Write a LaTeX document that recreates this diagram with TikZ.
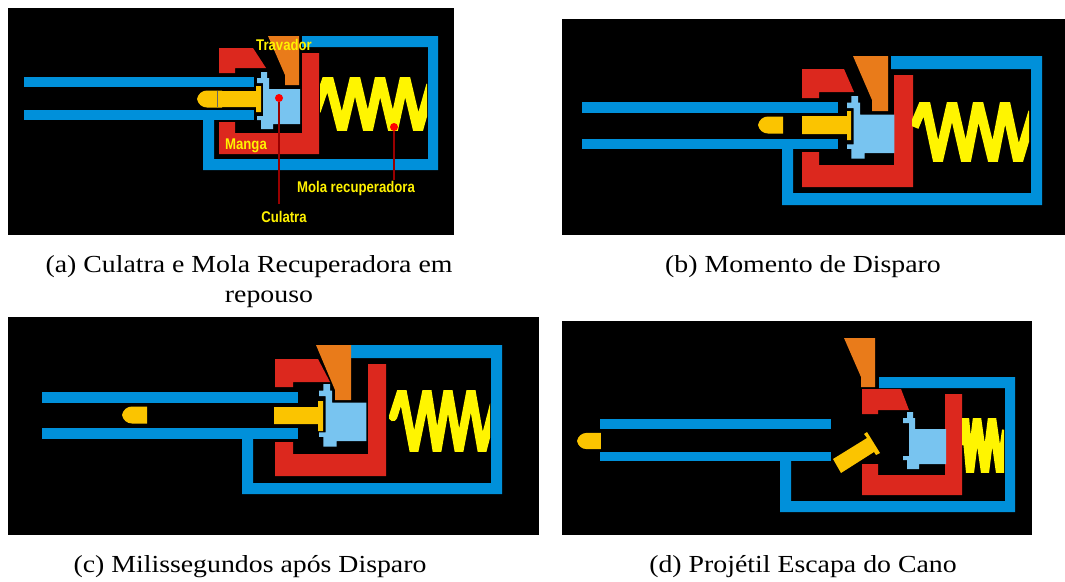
\documentclass[tikz,border=0pt]{standalone}
\usepackage{fontspec}
\setmainfont{Liberation Serif}
\newfontfamily\rotulofont[FakeStretch=0.85]{Liberation Sans}
\newfontfamily\legendafont[FakeStretch=1.135]{Liberation Serif}
\definecolor{azulcano}{HTML}{0090DA}
\definecolor{vermelho}{HTML}{DC281E}
\definecolor{laranja}{HTML}{E97B1A}
\definecolor{azulclaro}{HTML}{78C4F0}
\definecolor{ouro}{HTML}{FBC400}
\definecolor{amarelo}{HTML}{FFF500}
\tikzstyle{fundo}=[fill=black]
\tikzstyle{cano}=[fill=azulcano]
\tikzstyle{manga}=[fill=vermelho]
\tikzstyle{trava}=[fill=laranja]
\tikzstyle{culatrafill}=[fill=azulclaro]
\tikzstyle{cartucho}=[fill=ouro]
\tikzstyle{mola}=[draw=amarelo,line width=9.5pt,line join=miter,miter limit=20]
\tikzstyle{rotulo}=[text=yellow,inner sep=0pt,font=\rotulofont\bfseries\fontsize{15.5}{17}\selectfont]
\tikzstyle{ponto}=[circle,fill=red,inner sep=0pt,minimum size=8pt]
\tikzstyle{fio}=[draw=red!60!black,line width=1.5pt]
\tikzstyle{legenda}=[inner sep=0pt,font=\legendafont\fontsize{24.5}{28}\selectfont]
\tikzset{
culatra/.pic={
\fill[culatrafill] (4,0)--(10,0)--(10,6)--(12,6)--(12,17)--(43,17)--(43,52)--(16,52)--(16,57)--(4,57)--(4,48)--(0,48)--(0,44)--(6,44)--(6,11)--(0,11)--(0,6)--(4,6)--cycle;
},
ogiva/.pic={
\fill[cartucho] (0,0) .. controls (1,-5) and (5,-8.5) .. (10,-8.5) -- (25,-8.5) -- (25,8.5) -- (10,8.5) .. controls (5,8.5) and (1,5) .. (0,0) -- cycle;
}}
\begin{document}
\begin{tikzpicture}[x=1pt,y=-1pt]
\useasboundingbox (0,0) rectangle (1065,581);
\fill[fundo] (8,8) rectangle (454,235);
\fill[fundo] (562,19) rectangle (1065,235);
\fill[fundo] (8,317) rectangle (539,535);
\fill[fundo] (562,321) rectangle (1032,535);

%repouso
\fill[cano] (302,36)--(438,36)--(438,170)--(203,170)--(203,120)--(214,120)--(214,159)--(428,159)--(428,47)--(302,47)--cycle;
\fill[cano] (24,77) rectangle (254,87);
\fill[cano] (24,110) rectangle (254,120);
\fill[manga] (219,48)--(253,48)--(266,68)--(235,68)--(235,73)--(219,73)--cycle;
\fill[manga] (219,122)--(235,122)--(235,133)--(302,133)--(302,53)--(319,53)--(319,154)--(219,154)--cycle;
\fill[trava] (268,36)--(299,36)--(299,85)--(285,85)--(285,75)--cycle;
\pic at (257,72) {culatra};
\pic at (197,99) {ogiva};
\fill[cartucho] (217,91)--(256,91)--(256,86)--(261,86)--(261,112)--(256,112)--(256,107)--(217,107)--cycle;
\draw[black!60,line width=0.5pt] (217,91)--(217,107);
\begin{scope}
\clip (320,77) rectangle (427,130);
\draw[mola] (316,111)--(328,76)--(342,131)--(355,76)--(368,131)--(380,76)--(393,131)--(405,76)--(418,131)--(431,85);
\end{scope}
\node[ponto] (pontoculatra) at (279,98) {};
\node[ponto] (pontomola) at (394,127) {};
\node[rotulo] (travador) at (284,45) {Travador};
\node[rotulo] (rotmanga) at (246,146) {Manga};
\node[rotulo] (rotmola) at (356,188) {Mola recuperadora};
\node[rotulo] (rotculatra) at (284,217) {Culatra};
\coordinate (fimculatra) at (279,204);
\coordinate (fimmola) at (394,180);
\draw[fio] (pontoculatra)--(fimculatra);
\draw[fio] (pontomola)--(fimmola);
\node[legenda] (lega) at (249,267) {(a) Culatra e Mola Recuperadora em};
\node[legenda] (legarep) at (269,299) {repouso};

%disparo
\fill[cano] (891,56)--(1042,56)--(1042,205)--(782,205)--(782,149)--(793,149)--(793,193)--(1031,193)--(1031,69)--(891,69)--cycle;
\fill[cano] (582,102) rectangle (838,113);
\fill[cano] (582,139) rectangle (838,149);
\fill[manga] (802,69)--(844,69)--(854,92)--(819,92)--(819,98)--(802,98)--cycle;
\fill[manga] (802,152)--(819,152)--(819,165)--(894,165)--(894,75)--(913,75)--(913,187)--(802,187)--cycle;
\fill[trava] (853,56)--(888,56)--(888,111)--(872,111)--(872,100)--cycle;
\pic[scale=1.1] at (847,96) {culatra};
\pic at (758,125) {ogiva};
\fill[cartucho] (802,116)--(847,116)--(847,111)--(851,111)--(851,140)--(847,140)--(847,134)--(802,134)--cycle;
\begin{scope}
\clip (912,102) rectangle (1029,161);
\draw[mola] (914,127)--(925,101)--(938,162)--(952,101)--(966,162)--(978,101)--(993,162)--(1005,101)--(1018,162)--(1033,112);
\end{scope}
\node[legenda] (legb) at (803,267) {(b) Momento de Disparo};

%milissegundos
\fill[cano] (351,345)--(502,345)--(502,494)--(242,494)--(242,438)--(253,438)--(253,483)--(491,483)--(491,358)--(351,358)--cycle;
\fill[cano] (42,392) rectangle (298,403);
\fill[cano] (42,428) rectangle (298,439);
\fill[manga] (275,359)--(318,359)--(330,382)--(293,382)--(293,387)--(275,387)--cycle;
\fill[manga] (275,442)--(293,442)--(293,454)--(368,454)--(368,364)--(386,364)--(386,476)--(275,476)--cycle;
\fill[trava] (316,345)--(351,345)--(351,400)--(335,400)--(335,390)--cycle;
\pic[scale=1.1] at (319,384) {culatra};
\pic at (122,415) {ogiva};
\fill[cartucho] (274,407)--(318,407)--(318,401)--(323,401)--(323,431)--(318,431)--(318,424)--(274,424)--cycle;
\begin{scope}
\clip (380,390) rectangle (490,451);
\draw[mola,line width=8.5pt,line cap=round] (393,417)--(402,389)--(414,452)--(427,389)--(437,452)--(448,389)--(459,452)--(471,389)--(482,452)--(494,405);
\end{scope}
\node[legenda] (legc) at (250,567) {(c) Milissegundos após Disparo};

%escape
\fill[cano] (879,377)--(1015,377)--(1015,512)--(780,512)--(780,461)--(791,461)--(791,501)--(1005,501)--(1005,388)--(879,388)--cycle;
\fill[cano] (600,419) rectangle (831,429);
\fill[cano] (600,452) rectangle (831,461);
\fill[trava] (844,338)--(875,338)--(875,387)--(861,387)--(861,377)--cycle;
\fill[manga] (862,389)--(901,389)--(909,410)--(878,410)--(878,414)--(862,414)--cycle;
\fill[manga] (862,464)--(878,464)--(878,475)--(945,475)--(945,394)--(962,394)--(962,495)--(862,495)--cycle;
\pic at (903,412) {culatra};
\pic[scale=0.95] at (577,441) {ogiva};
\fill[cartucho] (833,459)--(867,438)--(864,434)--(867,432)--(880,453)--(876,455)--(874,452)--(841,473)--cycle;
\begin{scope}
\clip (962,418) rectangle (1004,472);
\draw[mola,line width=8pt] (961,445)--(965,417)--(970,473)--(977,417)--(985,473)--(992,417)--(1000,473)--(1006,430);
\end{scope}
\node[legenda] (legd) at (803,567) {(d) Projétil Escapa do Cano};
\end{tikzpicture}
\end{document}
